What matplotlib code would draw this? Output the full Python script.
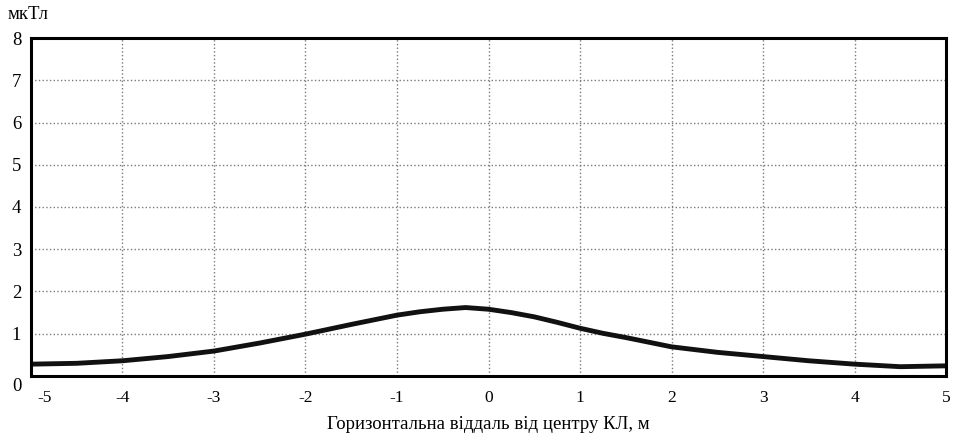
import matplotlib.pyplot as plt
import matplotlib.transforms as mtransforms

# значення
vidstan = [-5, -4.5, -4, -3.5, -3, -2.5, -2, -1.5, -1.25, -1, -0.75, -0.5, -0.25, 0,
           0.25, 0.5, 0.75, 1, 1.25, 1.5, 2, 2.5, 3, 3.5, 4, 4.5, 5]
indukciya = [0.28, 0.30, 0.36, 0.46, 0.59, 0.78, 0.99, 1.22, 1.33, 1.44, 1.52, 1.58, 1.62, 1.58,
             1.50, 1.40, 1.27, 1.13, 1.01, 0.91, 0.69, 0.56, 0.46, 0.36, 0.28, 0.22, 0.24]

xticks = [-5, -4, -3, -2, -1, 0, 1, 2, 3, 4, 5]
yticks = [0, 1, 2, 3, 4, 5, 6, 7, 8]

plt.rcParams['font.family'] = ['Liberation Serif', 'DejaVu Serif']

fig = plt.figure(figsize=(9.62, 4.40), dpi=100)
ax = fig.add_axes([0.0322, 0.1455, 0.9512, 0.7681])

ax.plot(vidstan, indukciya, color='#111111', linewidth=3.5,
        solid_capstyle='butt', solid_joinstyle='round')

ax.set_xlim(-5, 5)
ax.set_ylim(0, 8)
ax.set_xticks(xticks)
ax.set_yticks(yticks)
ax.set_xticklabels([str(v) for v in xticks], fontsize=12.5)
ax.set_yticklabels([str(v) for v in yticks], fontsize=13.5)
ax.tick_params(axis='x', length=0, pad=10)
ax.tick_params(axis='y', length=0, pad=7)

ax.grid(True, color='#7a7a7a', linestyle=':', linewidth=1.0)
for s in ax.spines.values():
    s.set_linewidth(2.2)
    s.set_color('black')

# зсув крайніх підписів, як на оригіналі
lbl = ax.get_xticklabels()[0]
lbl.set_transform(lbl.get_transform() + mtransforms.ScaledTranslation(14 / 100, 0, fig.dpi_scale_trans))
lbl0 = ax.get_yticklabels()[0]
lbl0.set_transform(lbl0.get_transform() + mtransforms.ScaledTranslation(0, -9 / 100, fig.dpi_scale_trans))

fig.text(0.008, 0.968, 'мкТл', fontsize=13.5, ha='left', va='center')
ax.set_xlabel('Горизонтальна віддаль від центру КЛ, м', fontsize=13.5, labelpad=7)

plt.savefig('out.png', dpi=100)
